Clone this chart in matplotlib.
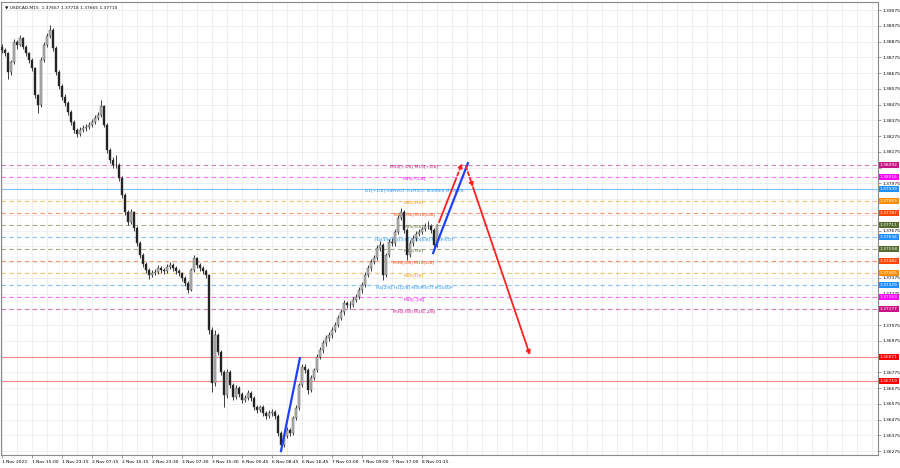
import matplotlib
matplotlib.use("Agg")
import matplotlib.pyplot as plt

# header line of the chart window
title = "USDCAD,M15  1.37667 1.37718 1.37665 1.37710"

# price trace, one candle per ~3 M15 bars
first_open = 1.38840
closes = [1.38821, 1.38802, 1.38681, 1.38745, 1.38872, 1.38853, 1.38897, 1.38840, 1.38802, 1.38758,
          1.38707, 1.38535, 1.38472, 1.38758, 1.38853, 1.38910, 1.38948, 1.38834, 1.38681, 1.38592,
          1.38523, 1.38484, 1.38427, 1.38364, 1.38313, 1.38288, 1.38313, 1.38326, 1.38332, 1.38345,
          1.38364, 1.38389, 1.38408, 1.38465, 1.38345, 1.38186, 1.38123, 1.38091, 1.38091, 1.38008,
          1.37900, 1.37792, 1.37729, 1.37792, 1.37691, 1.37595, 1.37519, 1.37462, 1.37424, 1.37392,
          1.37405, 1.37411, 1.37437, 1.37424, 1.37418, 1.37443, 1.37456, 1.37437, 1.37418, 1.37405,
          1.37373, 1.37341, 1.37297, 1.37424, 1.37500, 1.37456, 1.37437, 1.37418, 1.37392, 1.37043,
          1.36706, 1.37011, 1.36903, 1.36776, 1.36630, 1.36776, 1.36694, 1.36618, 1.36675, 1.36637,
          1.36599, 1.36611, 1.36643, 1.36611, 1.36554, 1.36535, 1.36554, 1.36516, 1.36497, 1.36516,
          1.36522, 1.36497, 1.36389, 1.36313, 1.36370, 1.36408, 1.36389, 1.36484, 1.36548, 1.36694,
          1.36808, 1.36789, 1.36662, 1.36738, 1.36789, 1.36872, 1.36916, 1.36960, 1.36992, 1.37011,
          1.37043, 1.37075, 1.37119, 1.37157, 1.37214, 1.37202, 1.37202, 1.37234, 1.37253, 1.37297,
          1.37329, 1.37392, 1.37437, 1.37475, 1.37500, 1.37564, 1.37583, 1.37392, 1.37519, 1.37602,
          1.37595, 1.37665, 1.37754, 1.37792, 1.37678, 1.37519, 1.37595, 1.37627, 1.37653, 1.37665,
          1.37684, 1.37703, 1.37703, 1.37678, 1.37583, 1.37710]
highs = [1.38860, 1.38835, 1.38810, 1.38760, 1.38890, 1.38885, 1.38915, 1.38905, 1.38850, 1.38810,
         1.38770, 1.38715, 1.38545, 1.38775, 1.38870, 1.38930, 1.38980, 1.38960, 1.38845, 1.38695,
         1.38605, 1.38540, 1.38495, 1.38440, 1.38375, 1.38325, 1.38330, 1.38345, 1.38350, 1.38365,
         1.38385, 1.38410, 1.38430, 1.38504, 1.38475, 1.38355, 1.38200, 1.38140, 1.38154, 1.38105,
         1.38020, 1.37915, 1.37805, 1.37810, 1.37800, 1.37705, 1.37610, 1.37530, 1.37475, 1.37435,
         1.37425, 1.37430, 1.37455, 1.37450, 1.37440, 1.37460, 1.37475, 1.37470, 1.37450, 1.37430,
         1.37415, 1.37385, 1.37355, 1.37440, 1.37520, 1.37510, 1.37470, 1.37450, 1.37430, 1.37400,
         1.37060, 1.37043, 1.37025, 1.36915, 1.36790, 1.36795, 1.36790, 1.36705, 1.36695, 1.36690,
         1.36650, 1.36630, 1.36660, 1.36655, 1.36625, 1.36570, 1.36570, 1.36565, 1.36530, 1.36535,
         1.36540, 1.36535, 1.36510, 1.36400, 1.36385, 1.36425, 1.36420, 1.36500, 1.36565, 1.36710,
         1.36825, 1.36830, 1.36800, 1.36755, 1.36805, 1.36890, 1.36935, 1.36980, 1.37010, 1.37030,
         1.37060, 1.37095, 1.37140, 1.37175, 1.37235, 1.37230, 1.37225, 1.37255, 1.37275, 1.37315,
         1.37350, 1.37410, 1.37455, 1.37495, 1.37520, 1.37585, 1.37610, 1.37595, 1.37535, 1.37620,
         1.37625, 1.37685, 1.37775, 1.37818, 1.37805, 1.37690, 1.37615, 1.37645, 1.37670, 1.37685,
         1.37700, 1.37720, 1.37735, 1.37715, 1.37690, 1.37718]
lows = [1.38800, 1.38780, 1.38637, 1.38660, 1.38735, 1.38830, 1.38845, 1.38825, 1.38785, 1.38740,
        1.38690, 1.38515, 1.38421, 1.38460, 1.38745, 1.38840, 1.38895, 1.38815, 1.38665, 1.38575,
        1.38505, 1.38465, 1.38410, 1.38345, 1.38295, 1.38270, 1.38275, 1.38300, 1.38310, 1.38320,
        1.38330, 1.38350, 1.38375, 1.38395, 1.38330, 1.38170, 1.38105, 1.38070, 1.38070, 1.37990,
        1.37880, 1.37775, 1.37710, 1.37715, 1.37675, 1.37580, 1.37500, 1.37445, 1.37405, 1.37370,
        1.37380, 1.37390, 1.37400, 1.37405, 1.37400, 1.37405, 1.37430, 1.37420, 1.37400, 1.37385,
        1.37355, 1.37320, 1.37280, 1.37290, 1.37410, 1.37440, 1.37420, 1.37400, 1.37375, 1.37020,
        1.36649, 1.36690, 1.36885, 1.36760, 1.36554, 1.36615, 1.36675, 1.36600, 1.36605, 1.36620,
        1.36580, 1.36585, 1.36600, 1.36595, 1.36535, 1.36515, 1.36520, 1.36500, 1.36480, 1.36485,
        1.36500, 1.36480, 1.36370, 1.36281, 1.36300, 1.36355, 1.36370, 1.36375, 1.36470, 1.36535,
        1.36680, 1.36770, 1.36640, 1.36650, 1.36725, 1.36775, 1.36860, 1.36900, 1.36945, 1.36975,
        1.36995, 1.37030, 1.37060, 1.37105, 1.37140, 1.37185, 1.37180, 1.37190, 1.37220, 1.37240,
        1.37280, 1.37315, 1.37380, 1.37420, 1.37460, 1.37485, 1.37545, 1.37361, 1.37380, 1.37505,
        1.37575, 1.37580, 1.37650, 1.37740, 1.37660, 1.37488, 1.37505, 1.37580, 1.37610, 1.37640,
        1.37650, 1.37670, 1.37685, 1.37660, 1.37565, 1.37570]

time_labels = ["1 Nov 2023", "1 Nov 15:00", "1 Nov 23:15", "2 Nov 07:15", "2 Nov 15:15",
               "2 Nov 23:30", "3 Nov 07:30", "3 Nov 15:30", "6 Nov 00:45", "6 Nov 08:45",
               "6 Nov 16:45", "7 Nov 01:00", "7 Nov 09:00", "7 Nov 17:00", "8 Nov 01:15"]
price_ticks = [1.36275, 1.36375, 1.36475, 1.36575, 1.36675, 1.36775, 1.36875, 1.36975, 1.37075,
               1.37175, 1.37275, 1.37375, 1.37475, 1.37575, 1.37675, 1.37775, 1.37875, 1.37975,
               1.38075, 1.38175, 1.38275, 1.38375, 1.38475, 1.38575, 1.38675, 1.38775, 1.38875,
               1.38975, 1.39075]

# murrey / pivot levels
levels = [1.38092, 1.38016, 1.37939, 1.37863, 1.37787, 1.37711, 1.37634,
          1.37558, 1.37482, 1.37405, 1.37329, 1.37253, 1.37177]
level_names = ["M30[+1/8] M15[+2/8]", "M15[+1/8]", "D1[+1/8] H4PIVOT H1PIVOT M30RES M15RES",
               "M15[7/8]", "M30[7/8] M15[6/8]", "M15[5/8]", "H4[3/8] H1[3/8] M30[6/8] M15PIVOT",
               "M15[3/8]", "M30[5/8] M15[2/8]", "M15[1/8]", "H4[2/8] H1[2/8] M30PIVOT M15SUP",
               "M15[-1/8]", "M30[3/8] M15[-2/8]"]
level_colors = ["#c71585", "#ff00ff", "#1e90ff", "#ff8c00", "#ff4500", "#556b2f", "#1e90ff",
                "#556b2f", "#ff4500", "#ff8c00", "#1e90ff", "#ff00ff", "#c71585"]
red_levels = [1.36871, 1.36719]

# hand drawn lines (candle index, price)
blue1_x, blue1_y = [93.0, 99.3], [1.36275, 1.36865]
blue2_x, blue2_y = [143.7, 155.3], [1.37532, 1.38103]
red_up_x, red_up_y = [145.7, 151.0, 153.4], [1.37729, 1.37986, 1.38103]
red_dn_x, red_dn_y = [154.6, 157.0, 176.0], [1.38085, 1.37950, 1.36884]

fs = 3.2
fig = plt.figure(figsize=(9, 4.68), dpi=100)
ax = fig.add_axes([1 / 900, 1 - 455 / 468, 877 / 900, 453 / 468])
ax.set_xlim(-0.33, 292)
ax.set_ylim(1.36250, 1.39126)

box_levels = levels + red_levels
tick_text = []
for p in price_ticks:
    # the coloured price boxes cover the scale labels right next to them
    hidden = min(abs(p - b) for b in box_levels) < 0.0002
    tick_text.append("" if hidden else "%.5f" % p)

# grid
ax.set_xticks(range(0, 150, 10))
ax.set_xticklabels(time_labels, fontsize=fs, ha="left")
ax.set_xticks(range(0, 295, 5), minor=True)
ax.set_yticks(price_ticks)
ax.set_yticklabels(tick_text, fontsize=fs)
ax.yaxis.tick_right()
ax.tick_params(axis="both", length=2, width=0.5, color="#777", pad=1.5)
ax.tick_params(axis="x", which="minor", length=0)
ax.grid(True, which="both", color="#ececec", lw=0.6)
ax.set_axisbelow(True)
for s in ax.spines.values():
    s.set_color("#8a8a8a")
    s.set_linewidth(0.8)

# level lines + labels
for p, name, col in zip(levels, level_names, level_colors):
    ls = "-" if name.startswith("D1") else (0, (4, 3))
    ax.axhline(p, color=col, lw=0.8, ls=ls, alpha=0.55, zorder=1)
    ax.text(137.3, p - 0.00012, name, color=col, fontsize=fs, ha="center", va="center", zorder=2)
    ax.text(1.002, p, "%.5f" % p, transform=ax.get_yaxis_transform(), fontsize=fs,
            color="white", ha="left", va="center", clip_on=False, zorder=5,
            bbox=dict(boxstyle="square,pad=0.25", fc=col, ec="none"))
for p in red_levels:
    ax.axhline(p, color="#f58a8a", lw=0.8, zorder=1)
    ax.text(1.002, p, "%.5f" % p, transform=ax.get_yaxis_transform(), fontsize=fs,
            color="white", ha="left", va="center", clip_on=False, zorder=5,
            bbox=dict(boxstyle="square,pad=0.25", fc="#ff0000", ec="none"))

# candles
opens = [first_open] + closes[:-1]
for i, (o, h, l, c) in enumerate(zip(opens, highs, lows, closes)):
    ax.vlines(i, l, h, color="#3c3c3c", lw=0.7, zorder=3)
    up = c >= o
    ax.bar(i, abs(c - o), bottom=min(o, c), width=0.75, zorder=4,
           color="#bdbdbd" if up else "#1e1e1e", edgecolor="#3c3c3c", lw=0.3)

# drawn trend lines / arrows
ax.plot(blue1_x, blue1_y, color="#2040ff", lw=1.6, zorder=6)
ax.plot(blue2_x, blue2_y, color="#2040ff", lw=1.6, zorder=6)
ax.plot(red_up_x[:2], red_up_y[:2], color="#ff2020", lw=1.3, zorder=6)
ax.annotate("", xy=(red_up_x[2], red_up_y[2]), xytext=(red_up_x[1], red_up_y[1]), zorder=6,
            arrowprops=dict(arrowstyle="-|>", color="#ff2020", lw=1.3, ls=(0, (2, 1.5)),
                            mutation_scale=6, shrinkA=0, shrinkB=0))
ax.annotate("", xy=(red_dn_x[1], red_dn_y[1]), xytext=(red_dn_x[0], red_dn_y[0]), zorder=6,
            arrowprops=dict(arrowstyle="-|>", color="#ff2020", lw=1.3, ls=(0, (2, 1.5)),
                            mutation_scale=6, shrinkA=0, shrinkB=0))
ax.annotate("", xy=(red_dn_x[2], red_dn_y[2]), xytext=(red_dn_x[1], red_dn_y[1]), zorder=6,
            arrowprops=dict(arrowstyle="-|>", color="#ff2020", lw=1.3,
                            mutation_scale=6, shrinkA=0, shrinkB=0))

ax.text(0.004, 0.992, "\u25bc " + title, transform=ax.transAxes, fontsize=fs,
        ha="left", va="top", color="#111")

fig.savefig("out.png", dpi=100)
